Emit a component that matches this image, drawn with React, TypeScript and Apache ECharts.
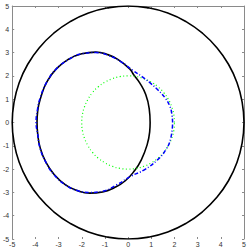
import React, { useEffect, useRef } from "react";
import * as echarts from "echarts";

const tickValues = [-5, -4, -3, -2, -1, 0, 1, 2, 3, 4, 5];

const outerCircle: [number, number][] = [
  [5, 0], [4.92, 0.87], [4.7, 1.71], [4.33, 2.5], [3.83, 3.21], [3.21, 3.83], [2.5, 4.33], [1.71, 4.7], [0.87, 4.92],
  [0, 5], [-0.87, 4.92], [-1.71, 4.7], [-2.5, 4.33], [-3.21, 3.83], [-3.83, 3.21], [-4.33, 2.5], [-4.7, 1.71], [-4.92, 0.87],
  [-5, 0], [-4.92, -0.87], [-4.7, -1.71], [-4.33, -2.5], [-3.83, -3.21], [-3.21, -3.83], [-2.5, -4.33], [-1.71, -4.7], [-0.87, -4.92],
  [0, -5], [0.87, -4.92], [1.71, -4.7], [2.5, -4.33], [3.21, -3.83], [3.83, -3.21], [4.33, -2.5], [4.7, -1.71], [4.92, -0.87],
  [5, 0],
];

const innerBlack: [number, number][] = [
  [0.95, 0], [0.91, 0.6], [0.76, 1.2], [0.5, 1.7], [0.24, 2.05], [0.07, 2.3], [-0.43, 2.7], [-0.9, 2.92], [-1.4, 3.02],
  [-2.0, 2.95], [-2.6, 2.7], [-3.1, 2.3], [-3.5, 1.75], [-3.76, 1.1], [-3.9, 0.5], [-3.93, 0],
  [-3.9, -0.5], [-3.79, -1.1], [-3.55, -1.7], [-3.2, -2.22], [-2.7, -2.68], [-2.2, -2.92], [-1.65, -3.03],
  [-1.1, -2.98], [-0.6, -2.8], [-0.12, -2.5], [0.29, -2.05], [0.57, -1.6], [0.82, -0.96], [0.93, -0.4], [0.95, 0],
];

const greenCircle: [number, number][] = [
  [2, 0], [1.97, 0.35], [1.88, 0.68], [1.73, 1.0], [1.53, 1.29], [1.29, 1.53], [1.0, 1.73], [0.68, 1.88], [0.35, 1.97],
  [0, 2], [-0.35, 1.97], [-0.68, 1.88], [-1.0, 1.73], [-1.29, 1.53], [-1.53, 1.29], [-1.73, 1.0], [-1.88, 0.68], [-1.97, 0.35],
  [-2, 0], [-1.97, -0.35], [-1.88, -0.68], [-1.73, -1.0], [-1.53, -1.29], [-1.29, -1.53], [-1.0, -1.73], [-0.68, -1.88], [-0.35, -1.97],
  [0, -2], [0.35, -1.97], [0.68, -1.88], [1.0, -1.73], [1.29, -1.53], [1.53, -1.29], [1.73, -1.0], [1.88, -0.68], [1.97, -0.35],
  [2, 0],
];

const blueCurve: [number, number][] = [
  [1.92, 0], [1.88, 0.4], [1.8, 0.7], [1.6, 1.05], [1.3, 1.38], [0.95, 1.7], [0.6, 1.97], [0.2, 2.24], [-0.3, 2.6],
  [-0.85, 2.88], [-1.4, 3.0], [-2.0, 2.95], [-2.6, 2.68], [-3.1, 2.3], [-3.5, 1.75], [-3.78, 1.1], [-3.92, 0.5], [-3.97, 0],
  [-3.9, -0.5], [-3.8, -1.1], [-3.55, -1.7], [-3.2, -2.24], [-2.7, -2.68], [-2.2, -2.92], [-1.65, -3.0], [-1.1, -2.95],
  [-0.5, -2.68], [0.13, -2.3], [0.7, -2.03], [1.27, -1.6], [1.62, -1.18], [1.84, -0.67], [1.92, 0],
];

const axisGray = "#8a8a8a";
const labelStyle = { fontSize: 7, color: "#333", fontFamily: "Liberation Sans" };

export default function App() {
  const ref = useRef<HTMLDivElement>(null);
  useEffect(() => {
    if (!ref.current) return;
    const chart = echarts.init(ref.current, undefined, { renderer: "svg" });
    const base = {
      type: "value" as const,
      min: tickValues[0],
      max: tickValues[tickValues.length - 1],
      interval: 1,
      splitLine: { show: false },
    };
    chart.setOption({
      animation: false,
      backgroundColor: "#fff",
      grid: { left: 10, right: 5, top: 6, bottom: 10, containLabel: false },
      xAxis: [
        {
          ...base,
          position: "bottom",
          axisLine: { show: false, onZero: false },
          axisTick: { inside: true, length: 2, lineStyle: { color: axisGray } },
          axisLabel: { ...labelStyle, margin: 2 },
        },
        {
          ...base,
          position: "top",
          axisLine: { show: true, onZero: false, lineStyle: { color: axisGray, width: 1 } },
          axisTick: { inside: true, length: 2, lineStyle: { color: axisGray } },
          axisLabel: { show: false },
        },
      ],
      yAxis: [
        {
          ...base,
          position: "left",
          axisLine: { show: true, onZero: false, lineStyle: { color: axisGray, width: 1 } },
          axisTick: { inside: true, length: 2, lineStyle: { color: axisGray } },
          axisLabel: { ...labelStyle, margin: 3 },
        },
        {
          ...base,
          position: "right",
          axisLine: { show: true, onZero: false, lineStyle: { color: axisGray, width: 1 } },
          axisTick: { inside: true, length: 2, lineStyle: { color: axisGray } },
          axisLabel: { show: false },
        },
      ],
      series: [
        {
          type: "line",
          data: outerCircle,
          showSymbol: false,
          smooth: true,
          lineStyle: { color: "#000", width: 1.6 },
        },
        {
          type: "line",
          data: innerBlack,
          showSymbol: false,
          smooth: true,
          lineStyle: { color: "#000", width: 1.6 },
        },
        {
          type: "line",
          data: greenCircle,
          showSymbol: false,
          smooth: true,
          lineStyle: { color: "#00ff00", width: 1.2, type: [1, 2.5] },
        },
        {
          type: "line",
          data: blueCurve,
          showSymbol: false,
          smooth: true,
          lineStyle: { color: "#0000ff", width: 1.5, type: [4, 2, 1, 2] },
        },
      ],
    });
    return () => chart.dispose();
  }, []);
  return (
    <div
      ref={ref}
      style={{ position: "fixed", left: 0, top: 0, width: 249, height: 249 }}
    />
  );
}
